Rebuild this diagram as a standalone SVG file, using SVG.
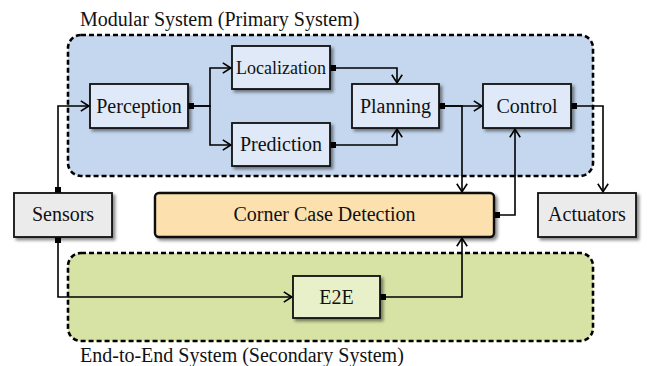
<svg xmlns="http://www.w3.org/2000/svg" width="647" height="366" viewBox="0 0 647 366">
<defs>
<filter id="sh" x="-20%" y="-20%" width="150%" height="160%">
<feDropShadow dx="2.5" dy="2.5" stdDeviation="1.8" flood-color="#000" flood-opacity="0.45"/>
</filter>
<marker id="arr" viewBox="0 0 10 12" refX="9.2" refY="6" markerWidth="10" markerHeight="12" markerUnits="userSpaceOnUse" orient="auto">
<path d="M1,0.8 L9,6 L1,11.2" fill="none" stroke="#000" stroke-width="1.6"/>
</marker>
<marker id="sq" viewBox="0 0 6 6" refX="0" refY="3" markerWidth="6" markerHeight="6" markerUnits="userSpaceOnUse" orient="auto">
<rect x="0" y="0" width="6" height="6" fill="#000"/>
</marker>
</defs>
<style>
text{font-family:'Liberation Serif','Times New Roman',serif;fill:#111;}
.lbl{font-size:20px;text-anchor:middle;}
.ttl{font-size:20px;}
.box{stroke:#111;stroke-width:1.8;filter:url(#sh);}
.blue{fill:#dfe9f8;}
.grey{fill:#ebebeb;}
.cont{stroke:#000;stroke-width:2.6;stroke-dasharray:5 3;}
.c{fill:none;stroke:#000;stroke-width:1.6;marker-start:url(#sq);marker-end:url(#arr);}
</style>
<g id="modular-system">
<rect x="68" y="35" width="525" height="141" rx="13" fill="#c5d7ee" class="cont"/>
<text class="ttl" x="80" y="26">Modular System (Primary System)</text>
</g>
<g id="e2e-system">
<rect x="68" y="253" width="525" height="88" rx="13" fill="#d7e3a5" class="cont"/>
<text class="ttl" x="80" y="362">End-to-End System (Secondary System)</text>
</g>
<g id="connectors">
<path class="c" d="M58,193 V106 H89"/>
<path class="c" d="M188,106 H210 V68 H231"/>
<path class="c" d="M188,106 H210 V145 H231"/>
<path class="c" d="M330,68 H397 V83"/>
<path class="c" d="M330,145 H397 V129"/>
<path class="c" d="M439,106 H482"/>
<path class="c" d="M439,106 H462 V192"/>
<path class="c" d="M571,106 H603 V192"/>
<path class="c" d="M494,215 H515 V129"/>
<path class="c" d="M58,237 V297 H292"/>
<path class="c" d="M380,297 H462 V238"/>
</g>
<g id="perception">
<rect class="box blue" x="90" y="84" width="98" height="44"/>
<text class="lbl" x="139" y="113">Perception</text>
</g>
<g id="localization">
<rect class="box blue" x="232" y="46" width="98" height="43"/>
<text class="lbl" x="281" y="74" style="font-size:18px">Localization</text>
</g>
<g id="prediction">
<rect class="box blue" x="232" y="123" width="98" height="43"/>
<text class="lbl" x="281" y="151">Prediction</text>
</g>
<g id="planning">
<rect class="box blue" x="352" y="84" width="87" height="44"/>
<text class="lbl" x="395.5" y="113">Planning</text>
</g>
<g id="control">
<rect class="box blue" x="483" y="84" width="88" height="44"/>
<text class="lbl" x="527" y="113">Control</text>
</g>
<g id="sensors">
<rect class="box grey" x="14" y="193" width="98" height="44"/>
<text class="lbl" x="63" y="221">Sensors</text>
</g>
<g id="corner-case-detection">
<rect class="box" x="155" y="193" width="339" height="44" rx="4" fill="#fce1ae" style="stroke-width:2.4"/>
<text class="lbl" x="324.5" y="221">Corner Case Detection</text>
</g>
<g id="actuators">
<rect class="box grey" x="538" y="193" width="98" height="44"/>
<text class="lbl" x="587" y="221">Actuators</text>
</g>
<g id="e2e">
<rect class="box" x="293" y="276" width="87" height="42" fill="#e7f0c9"/>
<text class="lbl" x="336.5" y="304">E2E</text>
</g>
</svg>
